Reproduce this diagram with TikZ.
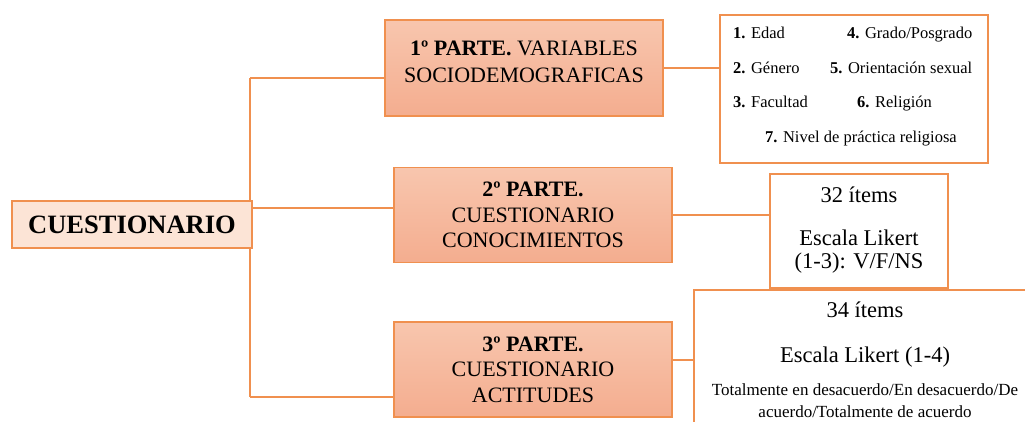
\documentclass[tikz,border=0pt]{standalone}
\usepackage{fontspec}
\setmainfont{Liberation Serif}
\usetikzlibrary{backgrounds,calc}
\definecolor{edge}{HTML}{F0904F}
\definecolor{light}{HTML}{FCE4D6}
\definecolor{salT}{HTML}{F8C6AE}
\definecolor{salB}{HTML}{F4AD8F}
\begin{document}
\begin{tikzpicture}[x=1pt,y=-1pt,
  part/.style={draw=edge, line width=1.3pt, top color=salT, bottom color=salB,
    minimum width=278pt, minimum height=95pt, inner sep=0pt, align=center,
    font=\fontsize{22}{25.5}\selectfont},
  info/.style={draw=edge, line width=1.3pt, fill=white, inner sep=0pt},
  conn/.style={draw=edge, line width=1.3pt},
  itm/.style={anchor=base west, inner sep=0pt, font=\fontsize{16.5}{19}\selectfont},
  ctr/.style={anchor=base, inner sep=0pt, font=\fontsize{22.5}{26}\selectfont},
  small/.style={anchor=base, inner sep=0pt, font=\fontsize{17}{20}\selectfont}]
\useasboundingbox (0,0) rectangle (1025,421);
\clip (0,0) rectangle (1025,421);

% main node
\node[draw=edge, line width=1.3pt, fill=light, minimum width=240pt, minimum height=47pt,
  inner sep=0pt, font=\fontsize{26.5}{28}\selectfont\bfseries] (cues) at (132,224.5) {CUESTIONARIO};

% parts
\node[part, minimum height=96pt] (p1) at (524,68) {};
\node[inner sep=0pt, align=center, font=\fontsize{22}{27}\selectfont] (p1t) at (524,61.5)
  {\textbf{1º PARTE.} VARIABLES\\SOCIODEMOGRAFICAS};
\node[part] (p2) at (533,215) {\textbf{2º PARTE.}\\CUESTIONARIO\\CONOCIMIENTOS};
\node[part] (p3) at (533,369.5) {\textbf{3º PARTE.}\\CUESTIONARIO\\ACTITUDES};

% info boxes
\node[info, minimum width=268pt, minimum height=148pt] (r1) at (854,89) {};
\node[info, minimum width=178pt, minimum height=114pt] (r2) at (859,231) {};
\node[info, minimum width=342pt, minimum height=150pt] (r3) at (865,365) {};

% r1 items
\node[itm] (i1) at (733,38) {\textbf{1.} Edad};
\node[itm] (i4) at (847,38) {\textbf{4.} Grado/Posgrado};
\node[itm] (i2) at (733,73) {\textbf{2.} Género};
\node[itm] (i5) at (830,73) {\textbf{5.} Orientación sexual};
\node[itm] (i3) at (733,107) {\textbf{3.} Facultad};
\node[itm] (i6) at (857,107) {\textbf{6.} Religión};
\node[itm] (i7) at (765,142) {\textbf{7.} Nivel de práctica religiosa};

% r2 text
\node[ctr] (a1) at (859,202) {32 ítems};
\node[ctr] (a2) at (859,245) {Escala Likert};
\node[ctr] (a3) at (859,268) {(1-3): V/F/NS};

% r3 text
\node[ctr] (b1) at (865,317) {34 ítems};
\node[ctr] (b2) at (865,362) {Escala Likert (1-4)};
\node[small] (b3) at (865,395) {Totalmente en desacuerdo/En desacuerdo/De};
\node[small] (b4) at (865,417) {acuerdo/Totalmente de acuerdo};

% connectors
\begin{scope}[on background layer]
\coordinate (ta) at (250,78);
\coordinate (tm) at (250,208);
\coordinate (tb) at (250,397);
\draw[conn] (ta) -- (tb);
\draw[conn] (ta) -- (ta -| p1.west);
\draw[conn] (tm) -- (tm -| p2.west);
\draw[conn] (tb) -- (tb -| p3.west);
\draw[conn] (p1.east) -- (p1.east -| r1.west);
\draw[conn] (p2.east) -- (p2.east -| r2.west);
\draw[conn] ([yshift=9.5pt]p3.east) -- ([yshift=9.5pt]p3.east -| r3.west);
\end{scope}
\end{tikzpicture}
\end{document}
